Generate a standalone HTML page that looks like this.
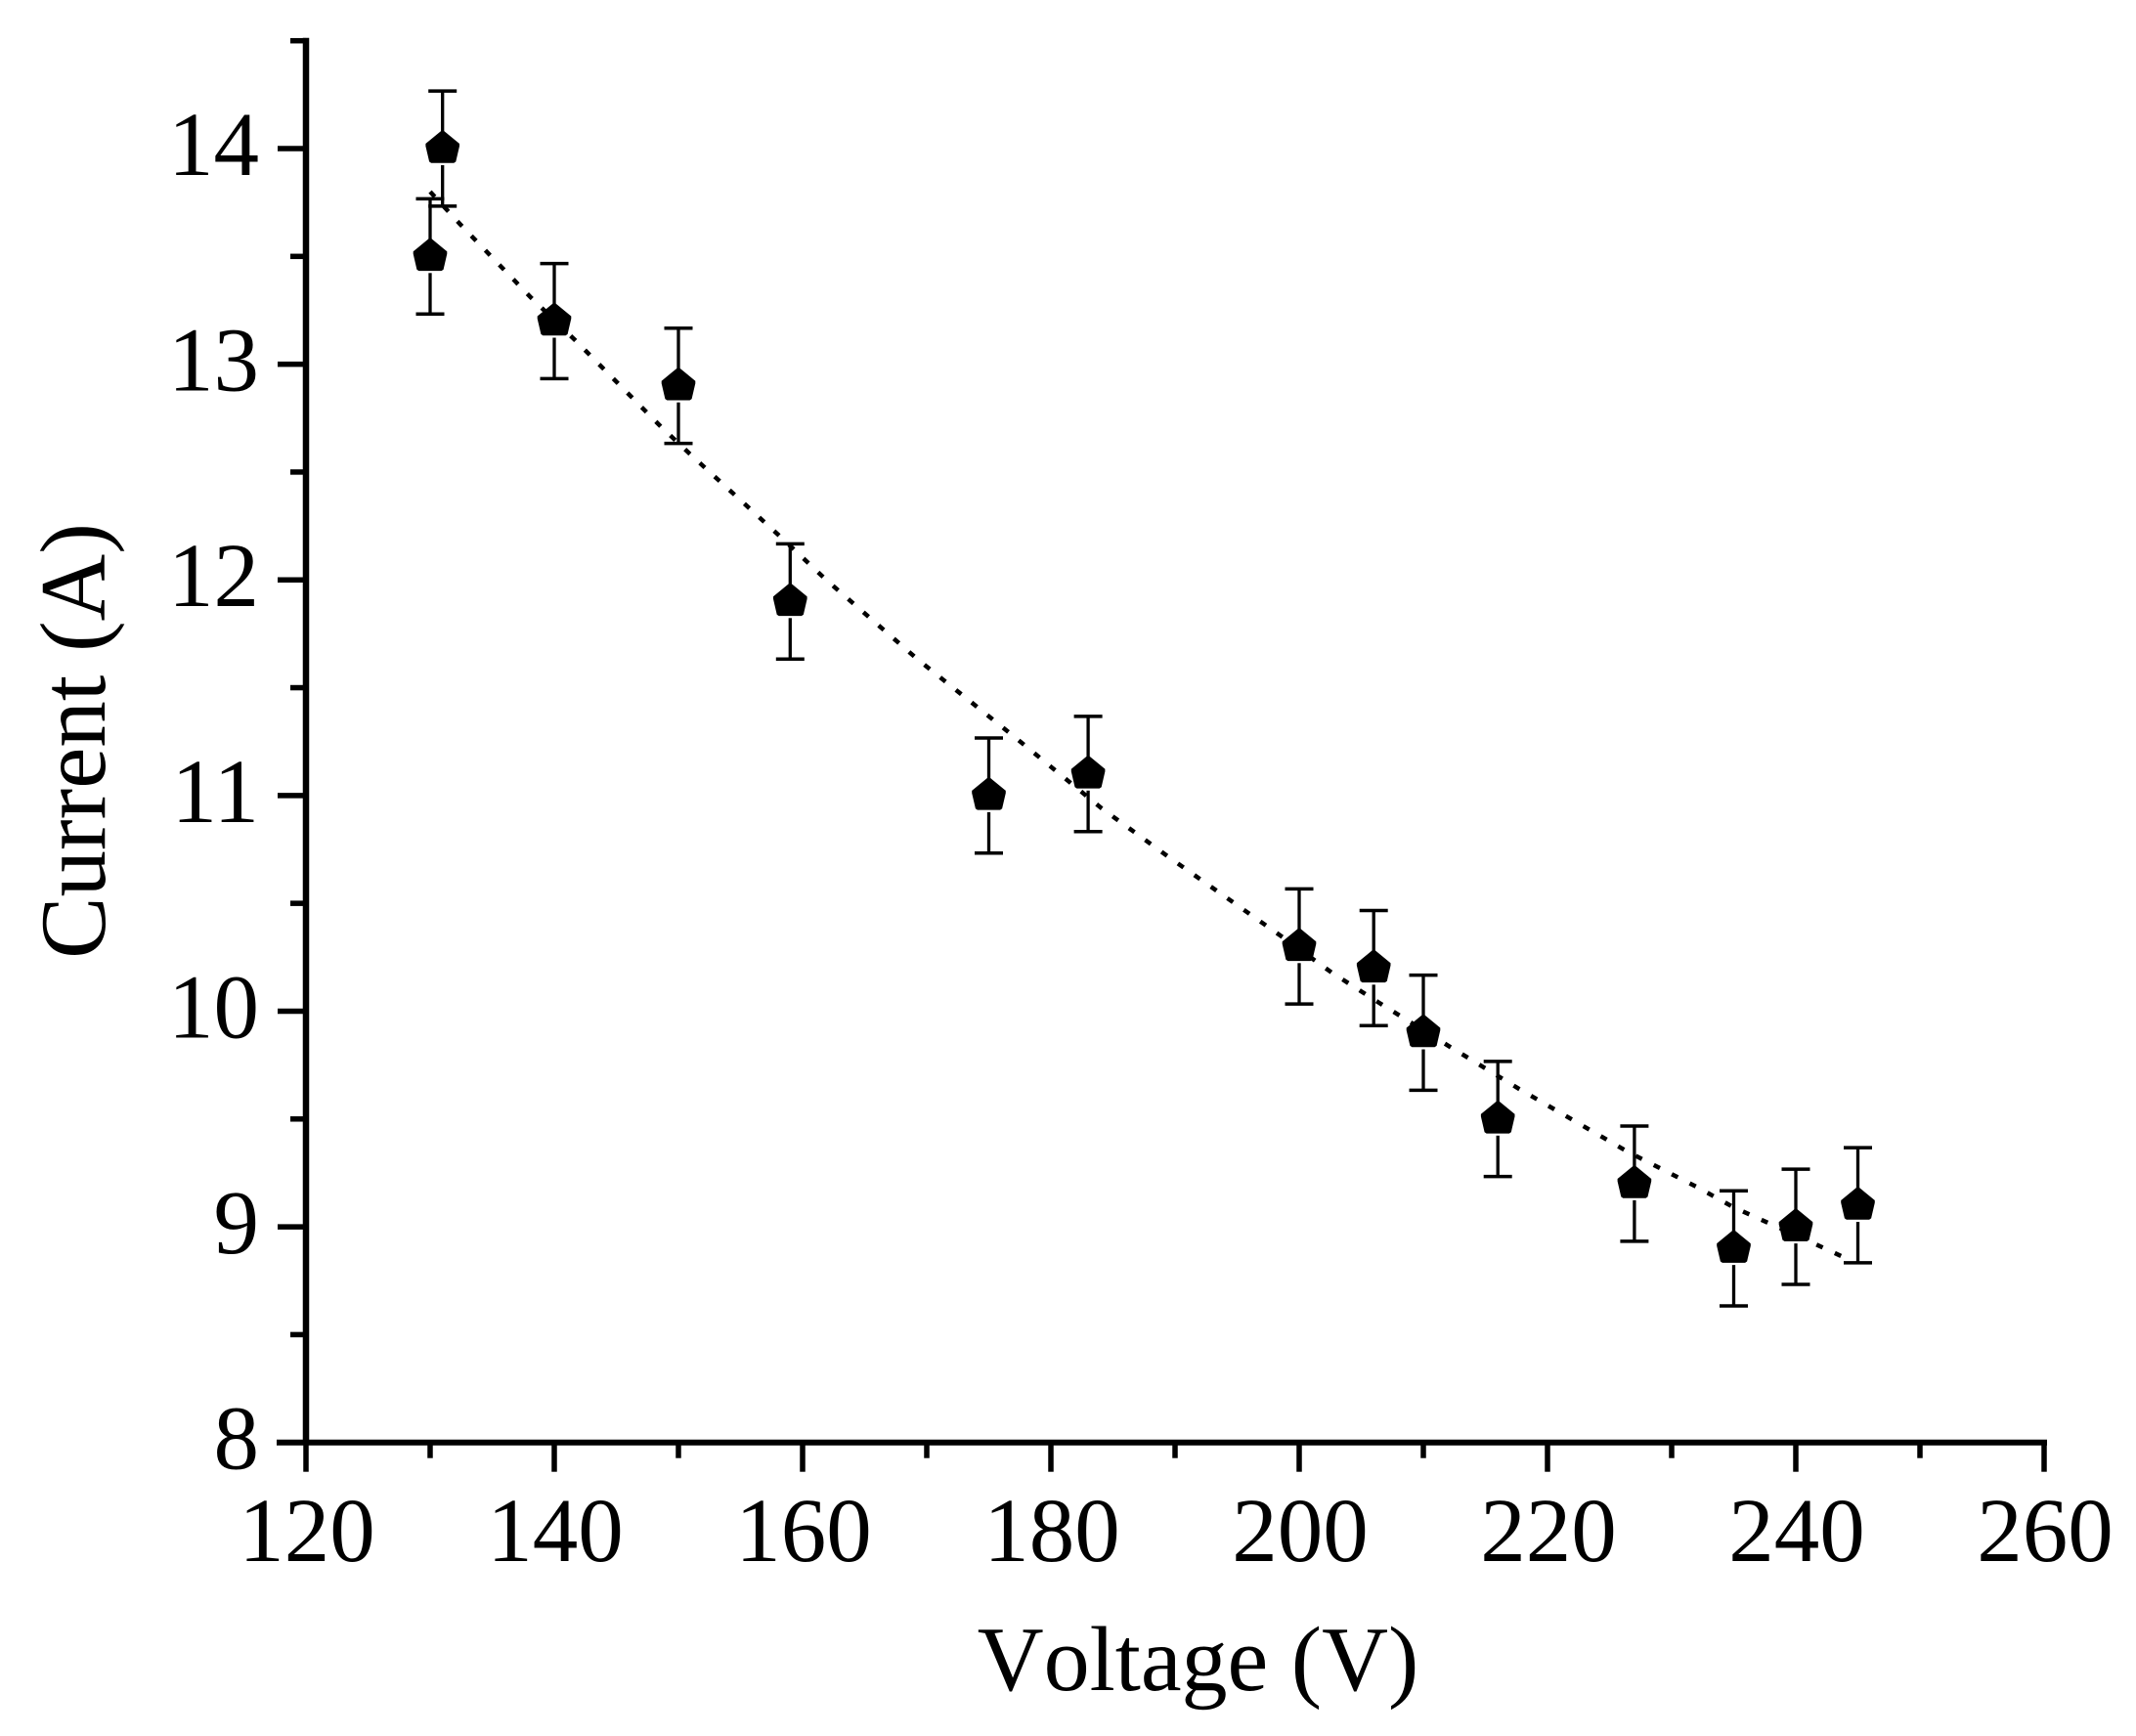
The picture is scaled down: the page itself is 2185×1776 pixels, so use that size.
<!DOCTYPE html>
<html lang="en">
<head>
<meta charset="utf-8">
<title>Current vs Voltage</title>
<style>
html,body{margin:0;padding:0;background:#fff;}
svg{display:block;}
text{font-family:"Liberation Serif","Times New Roman",serif;fill:#000;}
</style>
</head>
<body>
<svg id="chart" xmlns="http://www.w3.org/2000/svg" width="2185" height="1776" viewBox="0 0 2185 1776">
  <rect x="0" y="0" width="2185" height="1776" fill="#fff"/>
  <g id="axes"></g>
  <g id="fit"></g>
  <g id="points"></g>
  <text x="1225.5" y="1729" font-size="94" text-anchor="middle" style="font-kerning:none">Voltage (V)</text>
  <text transform="translate(107 758) rotate(-90)" font-size="95" text-anchor="middle">Current (A)</text>
</svg>
<script>
const voltage = [130, 131, 140, 150, 159, 175, 183, 200, 206, 210, 216, 227, 235, 240, 245];
const current = [13.5, 14, 13.2, 12.9, 11.9, 11, 11.1, 10.3, 10.2, 9.9, 9.5, 9.2, 8.9, 9, 9.1];
const errorValue = [0.267, 0.267, 0.267, 0.267, 0.267, 0.267, 0.267, 0.267, 0.267, 0.267, 0.267, 0.267, 0.267, 0.267, 0.267];
const fitVoltage = [130, 132.4, 138.1, 141.7, 148.6, 151, 154.8, 158.4, 161.9, 165.7, 169.3, 173, 176.9, 180.5, 184.1, 189.6, 194.8, 198.5, 202.6, 206.4, 212, 217.7, 223.4, 226.4, 232.2, 235, 241.2, 244.2];
const fitCurrent = [13.8, 13.65, 13.31, 13.11, 12.71, 12.58, 12.38, 12.19, 12, 11.81, 11.63, 11.46, 11.28, 11.11, 10.94, 10.71, 10.5, 10.35, 10.18, 10.04, 9.84, 9.64, 9.45, 9.35, 9.18, 9.09, 8.93, 8.85];
const xMajorTicks = [120, 140, 160, 180, 200, 220, 240, 260];
const xMinorTicks = [130, 150, 170, 190, 210, 230, 250];
const yMajorTicks = [8, 9, 10, 11, 12, 13, 14];
const yMinorTicks = [8.5, 9.5, 10.5, 11.5, 12.5, 13.5, 14.5];

const SVGNS = 'http://www.w3.org/2000/svg';
const xDomain = [120, 260], xRange = [313, 2091];
const yDomain = [8, 14], yRange = [1475.7, 152];
function sx(v){ return xRange[0] + (v - xDomain[0]) * (xRange[1] - xRange[0]) / (xDomain[1] - xDomain[0]); }
function sy(v){ return yRange[0] + (v - yDomain[0]) * (yRange[1] - yRange[0]) / (yDomain[1] - yDomain[0]); }
function line(parent, x1, y1, x2, y2, w){
  const l = document.createElementNS(SVGNS, 'line');
  l.setAttribute('x1', x1); l.setAttribute('y1', y1);
  l.setAttribute('x2', x2); l.setAttribute('y2', y2);
  l.setAttribute('stroke', '#000'); l.setAttribute('stroke-width', w);
  parent.appendChild(l);
  return l;
}
function label(parent, x, y, str, anchor){
  const t = document.createElementNS(SVGNS, 'text');
  t.setAttribute('x', x); t.setAttribute('y', y);
  t.setAttribute('font-size', 93);
  t.setAttribute('text-anchor', anchor);
  t.textContent = str;
  parent.appendChild(t);
  return t;
}

const axes = document.getElementById('axes');
const axisTop = sy(14.5) - 3;
const xAxisLine = line(axes, sx(120) - 30, sy(8), sx(260) + 3, sy(8), 6);


const yAxisLine = line(axes, sx(120), axisTop, sx(120), sy(8) + 2, 6.5);



xMajorTicks.forEach(function(v){
  const tick = line(axes, sx(v), sy(8), sx(v), sy(8) + 30, 5.5);
  
  
  const t = label(axes, sx(v) + 1, 1597, String(v), 'middle');
  
  
});
xMinorTicks.forEach(function(v){
  const tick = line(axes, sx(v), sy(8), sx(v), sy(8) + 16, 5.5);
  
  
});
yMajorTicks.forEach(function(v){
  const tick = line(axes, sx(120) - 29, sy(v), sx(120), sy(v), 5.5);
  
  
  const t = label(axes, 265, sy(v) + 27, String(v), 'end');
  
  
});
yMinorTicks.forEach(function(v){
  const tick = line(axes, sx(120) - 16, sy(v), sx(120), sy(v), 5.5);
  
  
});

const fitGroup = document.getElementById('fit');
const fitPath = document.createElementNS(SVGNS, 'polyline');


fitPath.setAttribute('points', fitVoltage.map(function(v, i){ return sx(v).toFixed(1) + ',' + sy(fitCurrent[i]).toFixed(1); }).join(' '));
fitPath.setAttribute('fill', 'none');
fitPath.setAttribute('stroke', '#000');
fitPath.setAttribute('stroke-width', 4.5);
fitPath.setAttribute('stroke-dasharray', '7 13.6');
fitGroup.appendChild(fitPath);

const pointsGroup = document.getElementById('points');
const pentagon = [[-1.5, -18], [1.5, -18], [17.3, -5], [17.3, -2.5], [13.6, 13.4], [11.6, 14.8], [-11.6, 14.8], [-13.6, 13.4], [-17.3, -2.5], [-17.3, -5]];
voltage.forEach(function(v, i){
  const cx = sx(v), cy = sy(current[i]);
  const top = sy(current[i] + errorValue[i]), bottom = sy(current[i] - errorValue[i]);
  const upper = line(pointsGroup, cx, top, cx, cy - 15, 3.3);
  
  
  const lower = line(pointsGroup, cx, cy + 17, cx, bottom, 3.3);
  
  
  const capTop = line(pointsGroup, cx - 14.5, top, cx + 14.5, top, 3.5);
  
  
  const capBottom = line(pointsGroup, cx - 14.5, bottom, cx + 14.5, bottom, 3.5);
  
  
  const marker = document.createElementNS(SVGNS, 'polygon');
  
  
  marker.setAttribute('points', pentagon.map(function(p){ return (cx + p[0]).toFixed(1) + ',' + (cy + p[1]).toFixed(1); }).join(' '));
  marker.setAttribute('fill', '#000');
  pointsGroup.appendChild(marker);
});
</script>
</body>
</html>
